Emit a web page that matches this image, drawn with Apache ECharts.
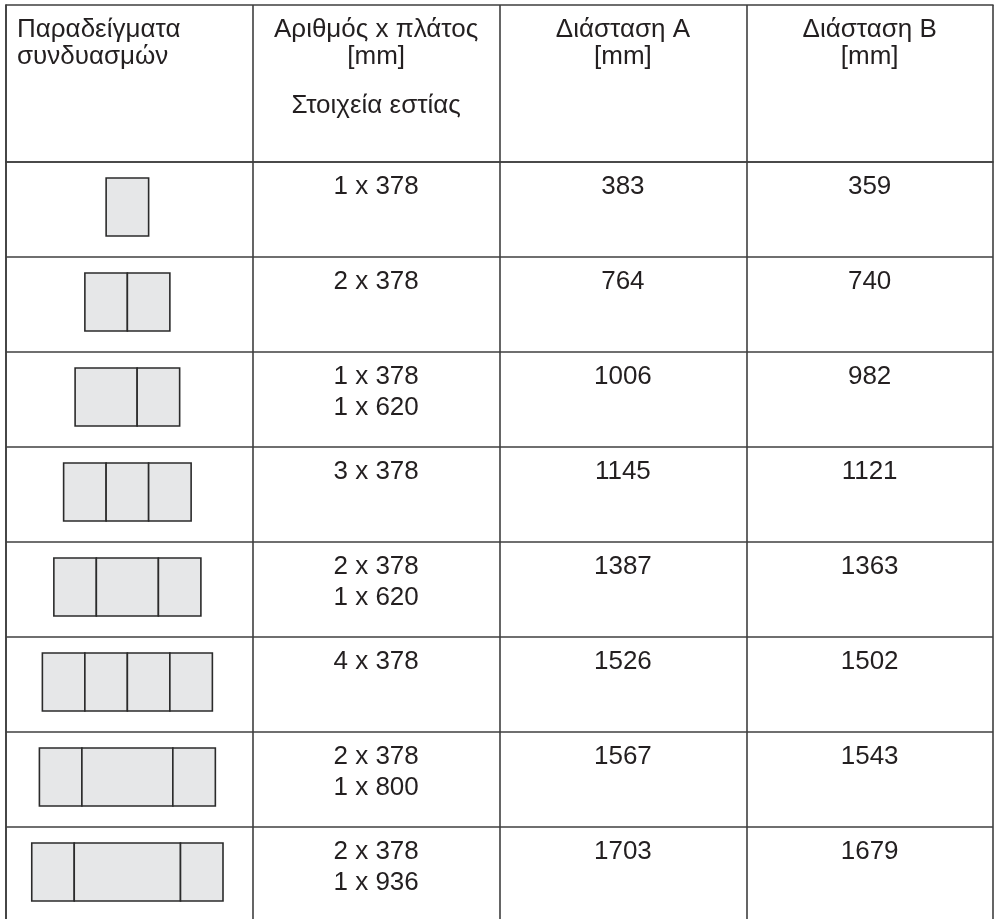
<!DOCTYPE html>
<html>
<head>
<meta charset="utf-8">
<script src="https://cdn.jsdelivr.net/npm/echarts@6/dist/echarts.min.js"></script>
<style>
  html, body { margin: 0; padding: 0; background: #fff; overflow: hidden; }
  #chart { width: 995px; height: 926px; }
</style>
</head>
<body>
<div id="chart"></div>
<script>
// table content
const headers = ['Παραδείγματα\nσυνδυασμών', 'Αριθμός x πλάτος\n[mm]', 'Διάσταση A\n[mm]', 'Διάσταση B\n[mm]']
const headerNote = 'Στοιχεία εστίας'
const combos = [
  [378],
  [378, 378],
  [620, 378],
  [378, 378, 378],
  [378, 620, 378],
  [378, 378, 378, 378],
  [378, 800, 378],
  [378, 936, 378]
]
const elements = ['1 x 378', '2 x 378', '1 x 378\n1 x 620', '3 x 378', '2 x 378\n1 x 620', '4 x 378', '2 x 378\n1 x 800', '2 x 378\n1 x 936']
const dimA = [383, 764, 1006, 1145, 1387, 1526, 1567, 1703]
const dimB = [359, 740, 982, 1121, 1363, 1502, 1543, 1679]
// drawn width of each hob element in the sketches, relative to the 378 one
const sketchScale = { 378: 1, 620: 1.46, 800: 2.14, 936: 2.5 }

const LINE = { color: '#3f3f3f', width: 1.6 }
const TEXT_COLOR = '#231f20'
const FONT = '26px "Liberation Sans", Arial, sans-serif'
const PANEL_W = 42.5
const PANEL_H = 58

const chart = echarts.init(document.getElementById('chart'), null, { renderer: 'canvas' })

const rowIdx = combos.map((_, i) => i)
const colIdx = [0, 1, 2, 3]

const catX = (gridIndex) => ({
  type: 'category',
  gridIndex,
  position: 'top',
  data: colIdx,
  boundaryGap: true,
  axisLine: { show: true, lineStyle: LINE },
  axisTick: { show: false },
  axisLabel: { show: false, interval: 0 },
  splitLine: { show: true, interval: 0, lineStyle: LINE }
})

const bodyText = []
rowIdx.forEach(r => { [1, 2, 3].forEach(c => bodyText.push([c, r])) })

const option = {
  animation: false,
  grid: [
    { left: 6, top: 5, width: 987, height: 157 },
    { left: 6, top: 162, width: 987, height: 760 }
  ],
  xAxis: [catX(0), catX(1)],
  yAxis: [
    {
      type: 'category', gridIndex: 0, inverse: true, data: ['h'],
      axisLine: { show: true, lineStyle: LINE },
      axisTick: { show: false }, axisLabel: { show: false },
      splitLine: { show: false }
    },
    {
      type: 'category', gridIndex: 1, inverse: true, data: rowIdx,
      axisLine: { show: true, lineStyle: LINE },
      axisTick: { show: false }, axisLabel: { show: false, interval: 0 },
      splitLine: { show: true, interval: 0, lineStyle: LINE }
    }
  ],
  series: [
    {
      // header texts
      type: 'custom',
      xAxisIndex: 0, yAxisIndex: 0,
      data: colIdx.map(c => [c, 0]),
      renderItem: (params, api) => {
        const col = api.value(0)
        const c = api.coord([col, 0])
        const band = api.size([1, 1])
        const top = c[1] - band[1] / 2
        const left = col === 0
        const children = [{
          type: 'text',
          style: {
            text: headers[col],
            x: left ? c[0] - band[0] / 2 + 11 : c[0],
            y: top + 11,
            align: left ? 'left' : 'center',
            verticalAlign: 'top',
            font: FONT,
            lineHeight: 27,
            fill: TEXT_COLOR
          }
        }]
        if (col === 1) {
          children.push({
            type: 'text',
            style: {
              text: headerNote, x: c[0], y: top + 87,
              align: 'center', verticalAlign: 'top',
              font: FONT, lineHeight: 27, fill: TEXT_COLOR
            }
          })
        }
        return { type: 'group', children }
      }
    },
    {
      // sketches of the combinations
      type: 'custom',
      xAxisIndex: 1, yAxisIndex: 1,
      data: rowIdx.map(r => [0, r]),
      renderItem: (params, api) => {
        const row = api.value(1)
        const c = api.coord([0, row])
        const band = api.size([1, 1])
        const widths = combos[row].map(w => sketchScale[w] * PANEL_W)
        const total = widths.reduce((a, b) => a + b, 0)
        let x = c[0] - 2 - total / 2
        const y = c[1] - band[1] / 2 + 16
        const children = widths.map(w => {
          const rect = {
            type: 'rect',
            shape: { x, y, width: w, height: PANEL_H },
            style: { fill: '#e6e7e8', stroke: '#2b2b2b', lineWidth: 1.6 }
          }
          x += w
          return rect
        })
        return { type: 'group', children }
      }
    },
    {
      // body texts
      type: 'custom',
      xAxisIndex: 1, yAxisIndex: 1,
      data: bodyText,
      renderItem: (params, api) => {
        const col = api.value(0)
        const row = api.value(1)
        const c = api.coord([col, row])
        const band = api.size([1, 1])
        const txt = col === 1 ? elements[row] : String(col === 2 ? dimA[row] : dimB[row])
        return {
          type: 'text',
          style: {
            text: txt,
            x: c[0],
            y: c[1] - band[1] / 2 + 9,
            align: 'center',
            verticalAlign: 'top',
            font: FONT,
            lineHeight: 31,
            fill: TEXT_COLOR
          }
        }
      }
    }
  ]
}

chart.setOption(option)
window.addEventListener('resize', () => chart.resize())
</script>
</body>
</html>
